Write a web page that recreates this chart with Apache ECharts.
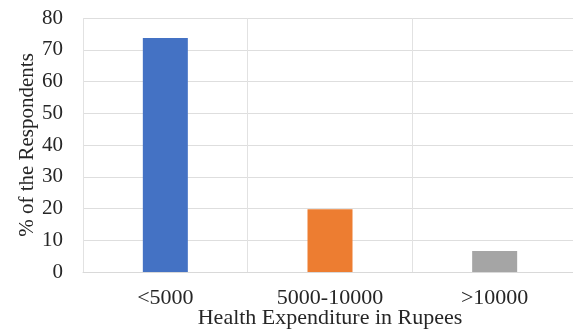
<!DOCTYPE html>
<html>
<head>
<meta charset="utf-8">
<script src="https://cdn.jsdelivr.net/npm/echarts@6/dist/echarts.min.js"></script>
<style>
  html, body { margin: 0; padding: 0; background: #fff; }
  #chart { width: 573px; height: 332px; }
</style>
</head>
<body>
<div id="chart"></div>
<script>
// 数据
const categories = ['<5000', '5000-10000', '>10000'];
const percentValues = [73.7, 19.8, 6.6];
const barColors = ['#4472C4', '#ED7D31', '#A5A5A5'];

const chart = echarts.init(document.getElementById('chart'));
const serif = '"Liberation Serif", "DejaVu Serif", serif';

const option = {
  backgroundColor: '#fff',
  animation: false,
  grid: {
    left: 83,
    top: 18,
    width: 494,
    height: 254,
    containLabel: false,
    outerBoundsMode: 'none'
  },
  xAxis: {
    type: 'category',
    data: categories,
    name: 'Health Expenditure in Rupees',
    nameLocation: 'middle',
    nameGap: 35,
    nameMoveOverlap: false,
    nameTextStyle: { fontFamily: serif, fontSize: 22, color: '#262626' },
    axisTick: { show: false },
    axisLine: { show: true, lineStyle: { color: '#d9d9d9' } },
    axisLabel: { fontFamily: serif, fontSize: 22, color: '#262626', margin: 15 },
    splitLine: { show: true, lineStyle: { color: '#e2e2e2' } }
  },
  yAxis: {
    type: 'value',
    min: 0,
    max: 80,
    interval: 10,
    name: '% of the Respondents',
    nameLocation: 'middle',
    nameGap: 45,
    nameMoveOverlap: false,
    nameTextStyle: { fontFamily: serif, fontSize: 21, color: '#262626' },
    axisLine: { show: false },
    axisTick: { show: false },
    axisLabel: { fontFamily: serif, fontSize: 21, color: '#262626', margin: 20 },
    splitLine: { lineStyle: { color: '#dedede' } }
  },
  series: [
    {
      type: 'bar',
      barWidth: 45,
      data: percentValues.map((v, i) => ({ value: v, itemStyle: { color: barColors[i] } }))
    }
  ]
};
chart.setOption(option);
</script>
</body>
</html>
